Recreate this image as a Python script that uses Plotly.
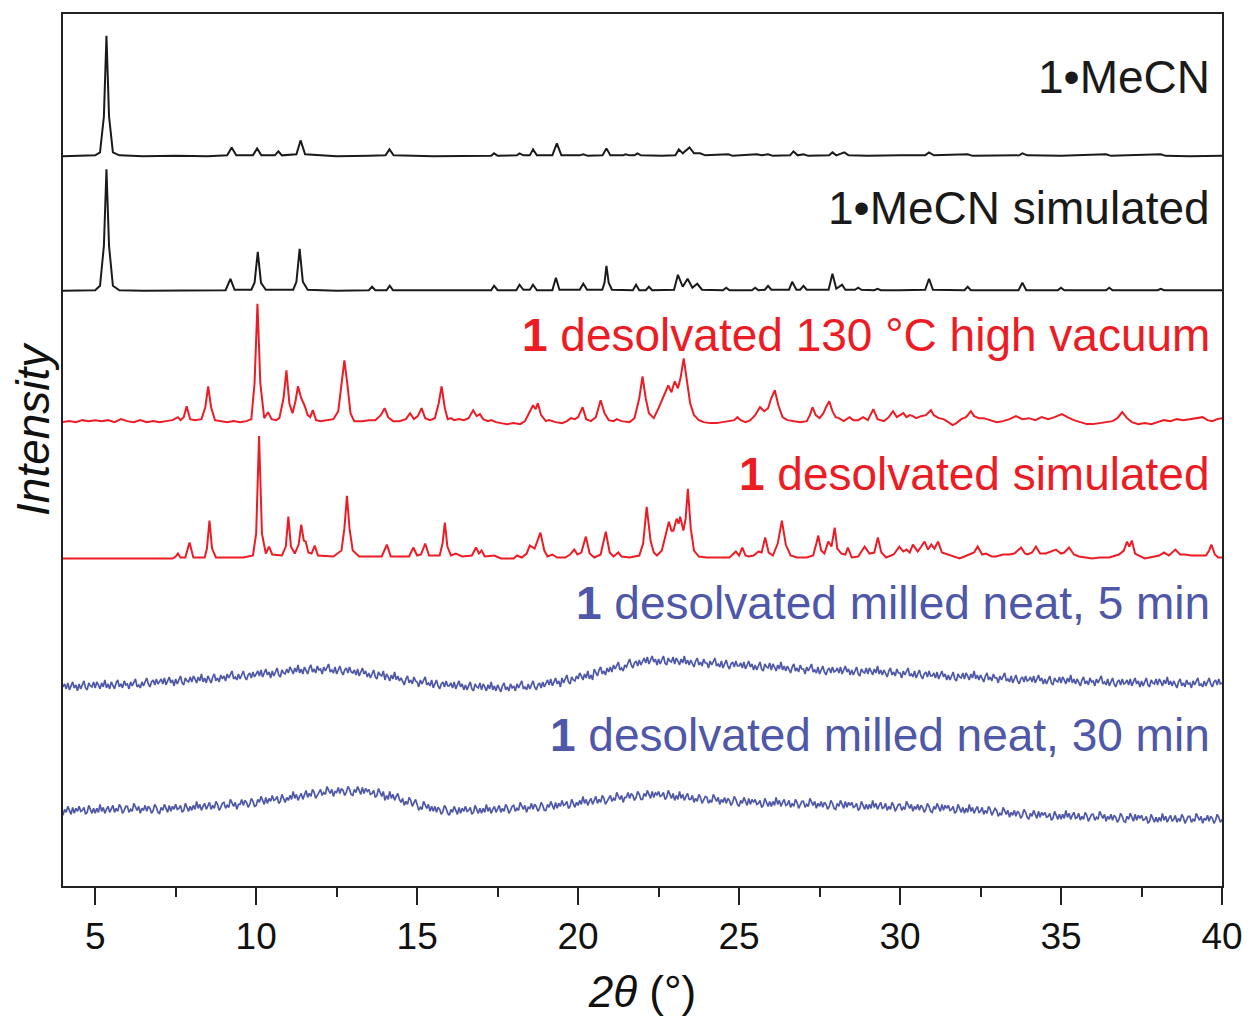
import plotly.graph_objects as go

# ---------------- data (2theta in degrees, intensity in arbitrary units) ----------------
labels = [
    "1•MeCN",
    "1•MeCN simulated",
    "<b>1</b> desolvated 130 °C high vacuum",
    "<b>1</b> desolvated simulated",
    "<b>1</b> desolvated milled neat, 5 min",
    "<b>1</b> desolvated milled neat, 30 min",
]
colors = ["#1a1a1a", "#1a1a1a", "#ed1c24", "#ed1c24", "#4f58a8", "#4f58a8"]
offsets = [733, 598, 465, 329, 198, 70]
label_y = [813, 681, 554, 414, 284, 152]

mecn_exp = [[4.0,0],[5.0,1],[5.15,4],[5.27,40],[5.35,121],[5.43,40],[5.55,4],[5.75,1],[6.5,0],[7.5,0.5],[8.5,0],
    [9.1,1],[9.24,9],[9.38,1],[9.9,1],[10.03,8],[10.16,1],[10.58,1],[10.69,5],[10.8,1],[11.25,2],[11.38,16],[11.52,2],
    [12.5,0],[13.5,0.5],[14.02,1],[14.14,7],[14.27,1],[15.5,0],[16.5,0.5],[17.3,0.5],[17.39,3],[17.5,0.5],[18.1,1],
    [18.18,3],[18.3,1],[18.5,1],[18.6,7],[18.72,1],[19.2,1],[19.34,13],[19.48,1],[20.05,1],[20.16,2],[20.3,0.5],
    [20.76,1],[20.88,8],[21.0,1],[21.4,1],[21.47,2],[21.6,1],[21.75,1],[21.84,3],[21.95,1],[22.6,0.5],[23.02,1],
    [23.13,7],[23.25,3],[23.46,9],[23.6,3],[23.79,3],[23.95,1],[24.67,2],[24.8,0.5],[25.55,2],[25.7,1],[25.9,2],
    [26.05,0.5],[26.58,1],[26.69,5],[26.82,1],[27.0,2],[27.15,0.5],[27.8,1],[27.9,4],[28.02,1],[28.27,4],[28.4,1],
    [29.0,0.5],[30.0,1],[30.78,1],[30.9,4],[31.05,1],[32.1,2],[32.25,0.5],[33.7,1],[33.8,3],[33.95,1],[35.0,0.5],
    [36.4,2],[36.55,0.5],[38.1,2],[38.25,0.5],[39.0,0],[40.0,0.5]]

mecn_sim = [[4.0,0],[5.0,0.5],[5.15,5],[5.27,45],[5.35,122],[5.43,45],[5.55,5],[5.75,0.5],[6.5,0],[9.05,0.5],
    [9.2,12],[9.33,1],[9.85,1],[9.95,8],[10.05,39],[10.15,8],[10.3,1],[11.15,1],[11.25,9],[11.35,42],[11.45,9],
    [11.6,1],[12.5,0],[13.5,0.5],[13.6,4],[13.7,0.5],[14.05,0.5],[14.15,5],[14.25,0.5],[16.5,0],[17.3,0.5],
    [17.39,5],[17.5,0.5],[18.08,0.5],[18.18,6],[18.3,1],[18.5,1],[18.6,6],[18.72,0.5],[19.2,0.5],[19.31,13],
    [19.42,1],[20.05,1],[20.16,7],[20.28,1],[20.75,1],[20.82,8],[20.88,25],[20.95,8],[21.05,1],[21.7,0.5],
    [21.8,6],[21.9,0.5],[22.1,0.5],[22.2,4],[22.3,0.5],[22.98,1],[23.1,16],[23.25,4],[23.4,12],[23.55,3],
    [23.7,7],[23.85,1],[24.5,0.5],[24.6,3],[24.7,0.5],[25.4,0.5],[25.5,3],[25.6,0.5],[25.8,1],[25.9,5],[26.0,1],
    [26.55,1],[26.65,9],[26.78,1],[26.9,1],[27.0,5],[27.1,1],[27.78,1],[27.9,17],[28.02,2],[28.2,6],[28.3,1],
    [28.6,1],[28.7,3],[28.8,1],[29.2,0.5],[29.3,2],[29.4,0.5],[30.0,0.5],[30.78,1],[30.9,12],[31.02,1],[32.0,0.5],
    [32.1,4],[32.2,0.5],[33.68,0.5],[33.8,8],[33.92,0.5],[34.9,0.5],[35.0,3],[35.1,0.5],[36.4,0.5],[36.5,3],
    [36.6,0.5],[38.0,0.5],[38.1,2],[38.2,0.5],[40.0,0.5]]

desolv_exp = [[4.0,1],[4.2,2],[4.4,1],[4.6,3],[4.8,2],[5.0,3],[5.2,2],[5.4,3],[5.6,1],[5.8,4],[6.0,2],[6.2,1],
    [6.4,3],[6.6,1],[6.8,2],[7.0,1],[7.2,2],[7.4,3],[7.57,6],[7.65,3],[7.75,6],[7.84,17],[7.95,4],[8.1,3],[8.3,4],
    [8.42,16],[8.51,37],[8.6,16],[8.72,3],[8.9,2],[9.1,1],[9.3,2],[9.5,1],[9.7,2],[9.85,4],[9.95,40],[10.04,120],
    [10.13,40],[10.25,5],[10.37,11],[10.48,4],[10.62,3],[10.72,5],[10.85,25],[10.94,53],[11.03,20],[11.13,10],
    [11.22,22],[11.3,37],[11.4,25],[11.5,18],[11.6,8],[11.68,6],[11.76,13],[11.86,3],[12.0,2],[12.2,3],[12.4,4],
    [12.55,12],[12.65,40],[12.74,63],[12.83,40],[12.93,10],[13.0,5],[13.05,2],[13.3,2],[13.5,3],[13.7,3],[13.87,8],
    [13.99,15],[14.1,6],[14.25,2],[14.45,2],[14.65,4],[14.78,10],[14.9,4],[15.02,7],[15.14,15],[15.25,5],[15.4,3],
    [15.55,5],[15.67,20],[15.76,37],[15.86,15],[15.95,4],[16.05,5],[16.15,3],[16.3,4],[16.45,3],[16.6,5],
    [16.74,13],[16.85,7],[16.95,9],[17.05,4],[17.2,2],[17.3,3],[17.45,1],[17.6,0],[17.8,-1],[18.0,0],[18.2,-1],
    [18.35,2],[18.45,8],[18.6,18],[18.68,14],[18.75,20],[18.85,8],[19.0,2],[19.1,3],[19.3,1],[19.5,0],[19.65,2],
    [19.78,5],[19.9,4],[20.0,6],[20.14,16],[20.25,4],[20.4,2],[20.55,6],[20.7,23],[20.82,10],[20.95,3],[21.1,2],
    [21.2,4],[21.35,2],[21.6,1],[21.75,5],[21.9,25],[22.0,47],[22.1,25],[22.2,10],[22.35,5],[22.5,15],[22.62,25],
    [22.71,32],[22.8,38],[22.9,31],[23.0,42],[23.1,35],[23.18,45],[23.28,65],[23.38,40],[23.48,20],[23.6,8],
    [23.75,3],[23.9,1],[24.1,0],[24.3,0],[24.5,1],[24.7,2],[24.85,3],[24.95,6],[25.05,3],[25.2,1],[25.35,3],
    [25.5,8],[25.65,16],[25.78,12],[25.9,15],[26.0,25],[26.11,33],[26.22,18],[26.35,6],[26.5,3],[26.7,2],[26.9,1],
    [27.1,2],[27.2,8],[27.28,16],[27.38,8],[27.5,5],[27.62,10],[27.7,16],[27.8,22],[27.9,12],[28.0,6],[28.1,5],
    [28.25,2],[28.43,6],[28.55,3],[28.7,3],[28.85,6],[29.0,3],[29.17,14],[29.3,4],[29.5,2],[29.65,6],[29.78,12],
    [29.9,6],[30.0,8],[30.1,10],[30.2,6],[30.3,8],[30.4,7],[30.5,5],[30.65,7],[30.8,8],[30.96,13],[31.05,8],
    [31.2,5],[31.35,4],[31.5,1],[31.63,-2],[31.75,0],[31.9,4],[32.05,6],[32.2,12],[32.3,7],[32.45,5],[32.6,5],
    [32.8,3],[33.0,1],[33.2,2],[33.4,4],[33.6,7],[33.8,4],[34.0,5],[34.2,3],[34.4,6],[34.6,4],[34.8,6],[35.03,9],
    [35.2,6],[35.4,3],[35.6,1],[35.8,-1],[36.0,-1],[36.2,0],[36.4,1],[36.6,2],[36.75,5],[36.9,11],[37.05,5],
    [37.2,1],[37.4,-1],[37.6,0],[37.8,-1],[38.0,1],[38.2,3],[38.4,2],[38.6,4],[38.8,3],[39.0,4],[39.2,5],[39.4,6],
    [39.55,3],[39.7,2],[39.85,4],[40.0,5]]

desolv_sim = [[4.0,0],[7.4,0],[7.5,2],[7.57,5],[7.65,1],[7.8,1],[7.93,16],[8.05,1],[8.4,1],[8.47,10],[8.55,38],
    [8.63,10],[8.75,1],[9.6,1],[9.9,3],[10.0,25],[10.09,123],[10.18,25],[10.3,5],[10.4,12],[10.5,4],[10.8,3],
    [10.92,12],[11.0,42],[11.08,12],[11.2,5],[11.32,14],[11.4,34],[11.48,18],[11.54,17],[11.62,6],[11.72,5],
    [11.82,13],[11.92,3],[12.4,2],[12.65,8],[12.74,30],[12.82,63],[12.9,30],[13.0,8],[13.2,2],[13.9,2],[14.06,14],
    [14.18,2],[14.75,2],[14.88,11],[15.0,3],[15.12,4],[15.25,15],[15.37,3],[15.7,3],[15.79,15],[15.86,36],
    [15.94,12],[16.05,3],[16.2,5],[16.4,2],[16.7,3],[16.83,11],[16.92,5],[17.0,8],[17.1,2],[17.4,3],[17.6,0],
    [18.0,0],[18.1,3],[18.25,1],[18.4,5],[18.5,13],[18.65,10],[18.83,26],[18.95,8],[19.05,2],[19.2,4],[19.35,1],
    [19.6,1],[19.75,4],[19.88,9],[19.98,4],[20.1,6],[20.24,22],[20.36,5],[20.5,1],[20.7,4],[20.86,27],[20.98,6],
    [21.1,2],[21.25,6],[21.35,2],[21.6,1],[21.9,3],[22.02,15],[22.13,52],[22.25,18],[22.35,6],[22.45,3],[22.6,8],
    [22.7,20],[22.82,37],[22.9,28],[22.96,28],[23.06,40],[23.12,35],[23.17,42],[23.27,28],[23.34,40],[23.41,70],
    [23.5,30],[23.6,8],[23.75,2],[24.0,1],[24.4,1],[24.7,1],[24.9,7],[25.0,3],[25.1,11],[25.2,3],[25.3,2],
    [25.45,3],[25.6,7],[25.7,6],[25.81,21],[25.92,6],[26.05,3],[26.2,15],[26.33,38],[26.45,14],[26.6,3],[26.8,1],
    [27.1,1],[27.3,3],[27.4,15],[27.46,23],[27.55,8],[27.65,5],[27.77,17],[27.87,12],[27.97,31],[28.05,10],
    [28.18,5],[28.3,4],[28.38,11],[28.5,1],[28.7,2],[28.9,12],[29.05,5],[29.2,6],[29.31,21],[29.42,6],[29.57,1],
    [29.8,4],[29.98,12],[30.1,7],[30.2,9],[30.3,6],[30.4,14],[30.5,10],[30.55,7],[30.66,12],[30.76,17],[30.87,9],
    [30.97,14],[31.07,10],[31.18,17],[31.3,6],[31.39,5],[31.6,2],[31.85,0],[32.0,2],[32.15,4],[32.3,6],[32.41,12],
    [32.55,4],[32.67,5],[32.85,2],[32.98,2],[33.2,4],[33.39,4],[33.55,5],[33.76,11],[33.88,5],[33.96,4],[34.1,6],
    [34.22,12],[34.35,5],[34.53,5],[34.7,7],[34.84,9],[35.0,5],[35.1,6],[35.25,11],[35.4,4],[35.56,2],[35.75,1],
    [35.97,0],[36.2,1],[36.5,1],[36.8,4],[36.95,8],[37.05,17],[37.12,12],[37.2,18],[37.3,5],[37.36,4],[37.6,0],
    [37.9,2],[38.05,3],[38.2,6],[38.35,3],[38.55,9],[38.7,4],[38.85,4],[39.05,3],[39.27,3],[39.5,3],[39.6,8],
    [39.67,14],[39.78,4],[39.88,1],[40.0,1]]

# milled samples: step scan 4.00-40.00 deg, 0.05 deg step (one row = 0.5 deg)
milled_2theta = [round(4 + 0.05 * i, 2) for i in range(721)]
milled_5min = [
    2,5,0,6,-1,3,7,1,4,-2,   5,0,4,8,1,-1,6,3,2,7,   1,7,4,0,6,2,9,1,5,0,   7,3,0,6,9,2,5,1,8,4,
    5,0,7,3,6,10,2,4,1,7,   3,8,11,5,2,7,9,4,10,5,   7,10,5,11,4,8,12,6,9,3,   10,5,9,13,6,4,11,8,7,12,
    7,13,10,6,12,8,15,7,11,6,   13,9,6,12,15,8,11,7,14,10,   13,8,15,11,14,18,10,12,9,15,   10,15,18,12,9,14,16,11,17,12,
    15,18,13,19,12,16,20,14,17,11,   18,13,17,21,14,12,19,16,15,20,   16,22,19,15,21,17,24,16,20,15,   22,18,15,21,24,17,20,16,23,19,
    20,15,22,18,21,25,17,19,16,22,   15,20,23,17,14,19,21,16,22,17,   16,19,14,20,13,17,21,15,18,12,   16,11,15,19,12,10,17,14,13,18,
    9,15,12,8,14,10,17,9,13,8,   11,7,4,10,13,6,9,5,12,8,   7,2,9,5,8,12,4,6,3,9,   1,6,9,3,0,5,7,2,8,3,
    3,6,1,7,0,4,8,2,5,-1,   4,-1,3,7,0,-2,5,2,1,6,   -1,5,2,-2,4,0,7,-1,3,-2,   4,0,-3,3,6,-1,2,-2,5,1,
    3,-2,5,1,4,8,0,2,-1,5,   0,5,8,2,-1,4,6,1,7,2,   6,9,4,10,3,7,11,5,8,2,   11,6,10,14,7,5,12,9,8,13,
    10,16,13,9,15,11,18,10,14,9,   20,16,13,19,22,15,18,14,21,17,   22,17,24,20,23,27,19,21,18,24,   22,27,30,24,21,26,28,23,29,24,
    28,31,26,32,25,29,33,27,30,24,   30,25,29,33,26,24,31,28,27,32,   25,31,28,24,30,26,33,25,29,24,   29,25,22,28,31,24,27,23,30,26,
    26,21,28,24,27,31,23,25,22,28,   21,26,29,23,20,25,27,22,28,23,   23,26,21,27,20,24,28,22,25,19,   24,19,23,27,20,18,25,22,21,26,
    19,25,22,18,24,20,27,19,23,18,   23,19,16,22,25,18,21,17,24,20,   20,15,22,18,21,25,17,19,16,22,   15,20,23,17,14,19,21,16,22,17,
    18,21,16,22,15,19,23,17,20,14,   19,14,18,22,15,13,20,17,16,21,   15,21,18,14,20,16,23,15,19,14,   19,15,12,18,21,14,17,13,20,16,
    16,11,18,14,17,21,13,15,12,18,   11,16,19,13,10,15,17,12,18,13,   13,16,11,17,10,14,18,12,15,9,   14,9,13,17,10,8,15,12,11,16,
    10,16,13,9,15,11,18,10,14,9,   14,10,7,13,16,9,12,8,15,11,   11,6,13,9,12,16,8,10,7,13,   6,11,14,8,5,10,12,7,13,8,
    9,12,7,13,6,10,14,8,11,5,   10,5,9,13,6,4,11,8,7,12,   6,12,9,5,11,7,14,6,10,5,   10,6,3,9,12,5,8,4,11,7,
    8,3,10,6,9,13,5,7,4,10,   3,8,11,5,2,7,9,4,10,5,   6,9,4,10,3,7,11,5,8,2,   8,3,7,11,4,2,9,6,5,10,
    4,10,7,3,9,5,12,4,8,3,   8,4,1,7,10,3,6,2,9,5,   6,1,8,4,7,11,3,5,2,8,   3,8,11,5,2,7,9,4,10,5,
    6]
milled_30min = [
    1,7,4,10,6,2,9,3,8,5,   10,5,6,9,2,4,11,7,3,8,   3,8,4,12,5,9,3,7,10,4,   7,11,4,8,5,12,9,3,6,10,
    10,4,7,5,13,9,6,10,3,8,   6,11,5,10,8,3,6,12,9,4,   3,9,6,12,8,4,11,5,10,7,   12,7,8,11,4,6,13,9,5,10,
    6,11,7,15,8,12,6,10,13,7,   10,14,7,11,8,15,12,6,9,13,   14,8,11,9,17,13,10,14,7,12,   12,17,11,16,14,9,12,18,15,10,
    11,17,14,20,16,12,19,13,18,15,   21,16,17,20,13,15,22,18,14,19,   16,21,17,25,18,22,16,20,23,17,   22,26,19,23,20,27,24,18,21,25,
    27,21,24,22,30,26,23,27,20,25,   24,29,23,28,26,21,24,30,27,22,   21,27,24,30,26,22,29,23,28,25,   27,22,23,26,19,21,28,24,20,25,
    16,21,17,25,18,22,16,20,23,17,   14,18,11,15,12,19,16,10,13,17,   12,6,9,7,15,11,8,12,5,10,   5,10,4,9,7,2,5,11,8,3,
    1,7,4,10,6,2,9,3,8,5,   10,5,6,9,2,4,11,7,3,8,   3,8,4,12,5,9,3,7,10,4,   7,11,4,8,5,12,9,3,6,10,
    11,5,8,6,14,10,7,11,4,9,   8,13,7,12,10,5,8,14,11,6,   6,12,9,15,11,7,14,8,13,10,   16,11,12,15,8,10,17,13,9,14,
    11,16,12,20,13,17,11,15,18,12,   16,20,13,17,14,21,18,12,15,19,   21,15,18,16,24,20,17,21,14,19,   19,24,18,23,21,16,19,25,22,17,
    17,23,20,26,22,18,25,19,24,21,   25,20,21,24,17,19,26,22,18,23,   16,21,17,25,18,22,16,20,23,17,   17,21,14,18,15,22,19,13,16,20,
    19,13,16,14,22,18,15,19,12,17,   14,19,13,18,16,11,14,20,17,12,   10,16,13,19,15,11,18,12,17,14,   17,12,13,16,9,11,18,14,10,15,
    10,15,11,19,12,16,10,14,17,11,   12,16,9,13,10,17,14,8,11,15,   15,9,12,10,18,14,11,15,8,13,   10,15,9,14,12,7,10,16,13,8,
    7,13,10,16,12,8,15,9,14,11,   14,9,10,13,6,8,15,11,7,12,   7,12,8,16,9,13,7,11,14,8,   9,13,6,10,7,14,11,5,8,12,
    12,6,9,7,15,11,8,12,5,10,   7,12,6,11,9,4,7,13,10,5,   4,10,7,13,9,5,12,6,11,8,   11,6,7,10,3,5,12,8,4,9,
    3,8,4,12,5,9,3,7,10,4,   5,9,2,6,3,10,7,1,4,8,   6,0,3,1,9,5,2,6,-1,4,   1,6,0,5,3,-2,1,7,4,-1,
    -3,3,0,6,2,-2,5,-1,4,1,   4,-1,0,3,-4,-2,5,1,-3,2,   -3,2,-2,6,-1,3,-3,1,4,-2,   -1,3,-4,0,-3,4,1,-5,-2,2,
    2,-4,-1,-3,5,1,-2,2,-5,0,   -3,2,-4,1,-1,-6,-3,3,0,-5,   -6,0,-3,3,-1,-5,2,-4,1,-2,   1,-4,-3,0,-7,-5,2,-2,-6,-1,
    -6,-1,-5,3,-4,0,-6,-2,1,-5,   -3,1,-6,-2,-5,2,-1,-7,-4,0,   0,-6,-3,-5,3,-1,-4,0,-7,-2,   -4,1,-5,0,-2,-7,-4,2,-1,-6,
    -3]

x_ticks = [5, 10, 15, 20, 25, 30, 35, 40]

# ---------------- figure ----------------
series = [
    ([p[0] for p in mecn_exp], [p[1] for p in mecn_exp], 2.0),
    ([p[0] for p in mecn_sim], [p[1] for p in mecn_sim], 2.0),
    ([p[0] for p in desolv_exp], [p[1] for p in desolv_exp], 2.0),
    ([p[0] for p in desolv_sim], [p[1] for p in desolv_sim], 2.0),
    (milled_2theta, milled_5min, 1.7),
    (milled_2theta, milled_30min, 1.7),
]

FONT = "Liberation Sans, Arial, sans-serif"
fig = go.Figure()
for (xs, ys, lw), off, col, lab in zip(series, offsets, colors, labels):
    fig.add_trace(go.Scatter(x=xs, y=[v + off for v in ys], mode="lines",
                             line=dict(color=col, width=lw), name=lab, showlegend=False,
                             hoverinfo="skip"))

for lab, ly, col in zip(labels, label_y, colors):
    fig.add_annotation(x=39.7, y=ly, xref="x", yref="y", text=lab, showarrow=False,
                       xanchor="right", yanchor="middle",
                       font=dict(family=FONT, size=46, color=col))

fig.add_annotation(x=-0.026, y=0.524, xref="paper", yref="paper", text="<i>Intensity</i>",
                   showarrow=False, textangle=-90, xanchor="center", yanchor="middle",
                   font=dict(family=FONT, size=46, color="#111"))

fig.update_xaxes(range=[4, 40], tickvals=x_ticks, ticks="outside", ticklen=17, tickwidth=2,
                 tickcolor="#222", showline=True, linewidth=2, linecolor="#222", mirror=True,
                 showgrid=False, zeroline=False,
                 tickfont=dict(family=FONT, size=37, color="#111"),
                 minor=dict(dtick=2.5, tick0=0, ticks="outside", ticklen=9, tickwidth=2, tickcolor="#222"),
                 title=dict(text="<i>2θ</i> (°)", font=dict(family=FONT, size=44, color="#111"), standoff=20))
fig.update_yaxes(range=[0, 876], showticklabels=False, ticks="", showline=True, linewidth=2,
                 linecolor="#222", mirror=True, showgrid=False, zeroline=False)

fig.update_layout(width=1255, height=1020, margin=dict(l=63, r=25, t=12, b=132),
                  paper_bgcolor="white", plot_bgcolor="white")

fig.write_html("out.html")
